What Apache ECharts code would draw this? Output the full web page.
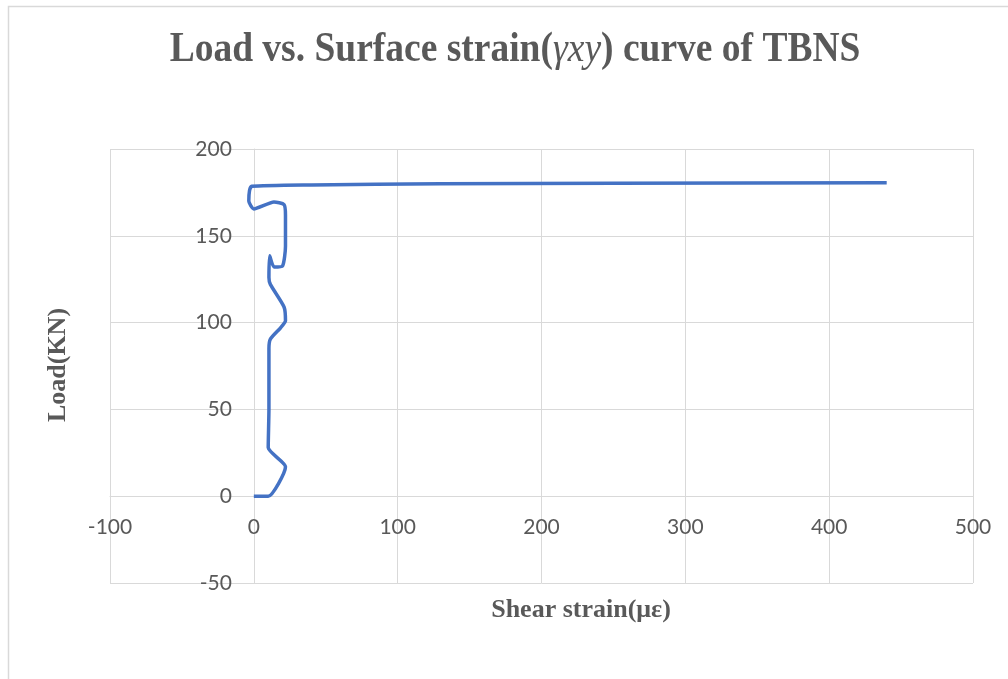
<!DOCTYPE html>
<html>
<head>
<meta charset="utf-8">
<script src="https://cdn.jsdelivr.net/npm/echarts@6/dist/echarts.min.js"></script>
<style>
  html, body { margin: 0; padding: 0; background: #ffffff; }
  #chart { width: 1008px; height: 679px; }
</style>
</head>
<body>
<div id="chart"></div>
<script>
// Shear strain (με) readings along the loading path
const shearStrain = [0, 10, 22, 10, 10.5, 10.5, 11.5, 18.6, 22, 21, 11.5, 10.5, 11, 14, 20, 22, 22, 21, 14, 0, -3.5, -3, -1.5, 40, 130, 250, 440];
// Applied load (kN) at each reading
const load = [0, 0, 17, 28, 50, 85, 90.5, 97, 101, 109, 122, 126, 138.5, 132, 132.7, 144, 162, 168, 169.5, 165.5, 170, 176, 178.5, 179.3, 180, 180.2, 180.5];

const xTicks = { min: -100, max: 500, step: 100 };
const yTicks = { min: -50, max: 200, step: 50 };

const points = shearStrain.map((x, i) => [x, load[i]]);

const grey = '#595959';
const gridGrey = '#d9d9d9';
const serif = '"Liberation Serif", "DejaVu Serif", serif';
const sans = 'Lato, "Noto Sans", sans-serif';

// Plot box in pixels
const W = 1008, H = 679;
const gridBox = { left: 110, right: 35, top: 149, bottom: 96 };
const plotW = W - gridBox.left - gridBox.right;
const plotH = H - gridBox.top - gridBox.bottom;
// Shift the axes so that each one crosses the other at zero
const xAxisShift = -plotH * (0 - yTicks.min) / (yTicks.max - yTicks.min);
const yAxisShift = -plotW * (0 - xTicks.min) / (xTicks.max - xTicks.min);

const chart = echarts.init(document.getElementById('chart'));
chart.setOption({
  animation: false,
  backgroundColor: '#ffffff',
  grid: gridBox,
  xAxis: {
    type: 'value',
    min: xTicks.min, max: xTicks.max, interval: xTicks.step,
    position: 'bottom',
    offset: xAxisShift,
    axisLine: { show: true, onZero: false, lineStyle: { color: gridGrey, width: 1 } },
    axisTick: { show: false },
    axisLabel: { color: grey, fontFamily: sans, fontSize: 21, margin: 21 },
    splitLine: { show: true, lineStyle: { color: gridGrey, width: 1 } }
  },
  yAxis: {
    type: 'value',
    min: yTicks.min, max: yTicks.max, interval: yTicks.step,
    position: 'left',
    offset: yAxisShift,
    axisLine: { show: true, onZero: false, lineStyle: { color: gridGrey, width: 1 } },
    axisTick: { show: false },
    axisLabel: { color: grey, fontFamily: sans, fontSize: 21, margin: 22 },
    splitLine: { show: true, lineStyle: { color: gridGrey, width: 1 } }
  },
  graphic: [
    {
      type: 'rect',
      shape: { x: 8.5, y: 6.5, width: 1100, height: 800 },
      style: { fill: 'none', stroke: gridGrey, lineWidth: 1.5 },
      silent: true
    },
    {
      type: 'text',
      x: 515, y: 50,
      scaleY: 1.1,
      style: {
        text: '{b|Load vs. Surface strain(}{i|γxy}{b|) curve of TBNS}',
        align: 'center',
        verticalAlign: 'middle',
        rich: {
          b: { fontFamily: serif, fontWeight: 'bold', fontSize: 37.5, fill: grey },
          i: { fontFamily: serif, fontStyle: 'italic', fontSize: 37.5, fill: grey }
        }
      }
    },
    {
      type: 'text',
      x: 581, y: 610,
      style: {
        text: 'Shear strain(με)',
        font: 'bold 26px ' + serif,
        fill: grey,
        align: 'center',
        verticalAlign: 'middle'
      }
    },
    {
      type: 'text',
      x: 58, y: 365,
      rotation: Math.PI / 2,
      style: {
        text: 'Load(KN)',
        font: 'bold 26px ' + serif,
        fill: grey,
        align: 'center',
        verticalAlign: 'middle'
      }
    }
  ],
  series: [{
    type: 'line',
    data: points,
    showSymbol: false,
    smooth: 0.2,
    lineStyle: { color: '#4472C4', width: 3.5 },
    itemStyle: { color: '#4472C4' }
  }]
});
</script>
</body>
</html>
